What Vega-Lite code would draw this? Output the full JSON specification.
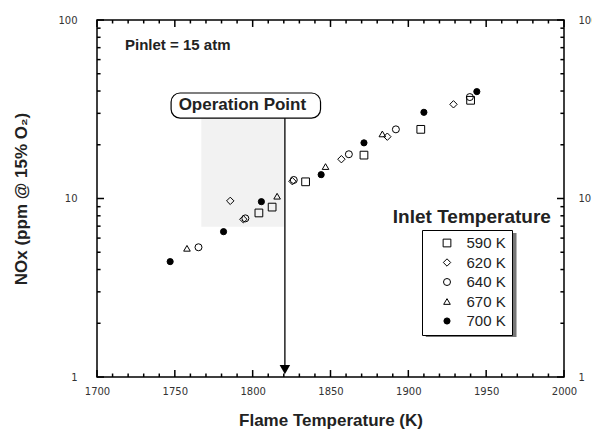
{
  "$schema": "https://vega.github.io/schema/vega-lite/v6.json",
  "width": 467,
  "height": 357,
  "autosize": {"type": "none"},
  "padding": {"left": 97, "top": 20, "right": 28, "bottom": 60},
  "background": "white",
  "config": {
    "view": {"stroke": "black", "strokeWidth": 1.5},
    "font": "Liberation Sans",
    "axis": {"grid": false, "domain": false, "ticks": false, "labelFlush": false, "labelFont": "DejaVu Sans", "labelFontSize": 10, "labelColor": "#333"}
  },
  "datasets": {
    "xmaj": [{"v": 1700}, {"v": 1750}, {"v": 1800}, {"v": 1850}, {"v": 1900}, {"v": 1950}, {"v": 2000}],
    "xmin": [{"v": 1710}, {"v": 1720}, {"v": 1730}, {"v": 1740}, {"v": 1760}, {"v": 1770}, {"v": 1780}, {"v": 1790}, {"v": 1810}, {"v": 1820}, {"v": 1830}, {"v": 1840}, {"v": 1860}, {"v": 1870}, {"v": 1880}, {"v": 1890}, {"v": 1910}, {"v": 1920}, {"v": 1930}, {"v": 1940}, {"v": 1960}, {"v": 1970}, {"v": 1980}, {"v": 1990}],
    "ymaj": [{"v": 1}, {"v": 10}, {"v": 100}],
    "ymin": [{"v": 2}, {"v": 3}, {"v": 4}, {"v": 5}, {"v": 6}, {"v": 7}, {"v": 8}, {"v": 9}, {"v": 20}, {"v": 30}, {"v": 40}, {"v": 50}, {"v": 60}, {"v": 70}, {"v": 80}, {"v": 90}],
    "pts": [
      {"T": "590 K", "x": 1804, "y": 8.3},
      {"T": "590 K", "x": 1812.5, "y": 8.95},
      {"T": "590 K", "x": 1834, "y": 12.4},
      {"T": "590 K", "x": 1871.5, "y": 17.5},
      {"T": "590 K", "x": 1908, "y": 24.4},
      {"T": "590 K", "x": 1940, "y": 35.5},
      {"T": "620 K", "x": 1785.6, "y": 9.7},
      {"T": "620 K", "x": 1794, "y": 7.65},
      {"T": "620 K", "x": 1825.5, "y": 12.5},
      {"T": "620 K", "x": 1857, "y": 16.6},
      {"T": "620 K", "x": 1886.5, "y": 22.2},
      {"T": "620 K", "x": 1929, "y": 33.7},
      {"T": "640 K", "x": 1765.2, "y": 5.33},
      {"T": "640 K", "x": 1795.3, "y": 7.74},
      {"T": "640 K", "x": 1826.4, "y": 12.7},
      {"T": "640 K", "x": 1861.8, "y": 17.7},
      {"T": "640 K", "x": 1892, "y": 24.4},
      {"T": "640 K", "x": 1939.5, "y": 37},
      {"T": "670 K", "x": 1757.8, "y": 5.26},
      {"T": "670 K", "x": 1815.7, "y": 10.3},
      {"T": "670 K", "x": 1846.8, "y": 15.1},
      {"T": "670 K", "x": 1883.3, "y": 23.0},
      {"T": "700 K", "x": 1747, "y": 4.43},
      {"T": "700 K", "x": 1781.3, "y": 6.52},
      {"T": "700 K", "x": 1805.6, "y": 9.6},
      {"T": "700 K", "x": 1844, "y": 13.6},
      {"T": "700 K", "x": 1871.5, "y": 20.5},
      {"T": "700 K", "x": 1910, "y": 30.4},
      {"T": "700 K", "x": 1944, "y": 39.7}
    ]
  },
  "data": {"name": "pts"},
  "layer": [
    {
      "data": {"values": [{}]},
      "mark": {"type": "rect", "color": "#f2f2f2"},
      "encoding": {
        "x": {"datum": 1767, "type": "quantitative", "axis": null},
        "x2": {"datum": 1820},
        "y": {"datum": 30, "type": "quantitative", "axis": null},
        "y2": {"datum": 6.95}
      }
    },
    {
      "data": {"values": [{}]},
      "mark": {"type": "rect", "color": "#777777"},
      "encoding": {
        "x": {"datum": 1911.2, "type": "quantitative", "axis": null},
        "x2": {"datum": 1969.5},
        "y": {"datum": 6.41, "type": "quantitative", "axis": null},
        "y2": {"datum": 1.675}
      }
    },
    {
      "data": {"values": [{}]},
      "mark": {"type": "rect", "fill": "white", "stroke": "black", "strokeWidth": 1.2, "cornerRadius": 9},
      "encoding": {
        "x": {"datum": 1747.6, "type": "quantitative", "axis": null},
        "x2": {"datum": 1843.6},
        "y": {"datum": 39.0, "type": "quantitative", "axis": null},
        "y2": {"datum": 28.2}
      }
    },
    {
      "data": {"values": [{}]},
      "mark": {"type": "text", "text": "Operation Point", "fontSize": 17, "fontWeight": "bold", "color": "#222", "align": "center", "baseline": "middle"},
      "encoding": {
        "x": {"datum": 1793.4, "type": "quantitative", "axis": null},
        "y": {"datum": 33.4, "type": "quantitative", "axis": null}
      }
    },
    {
      "data": {"values": [{}]},
      "mark": {"type": "rule", "color": "black", "strokeWidth": 1.3},
      "encoding": {
        "x": {"datum": 1820.7, "type": "quantitative", "axis": null},
        "y": {"datum": 28.2, "type": "quantitative", "axis": null},
        "y2": {"datum": 1.12}
      }
    },
    {
      "data": {"values": [{}]},
      "mark": {"type": "point", "shape": "triangle-down", "filled": true, "color": "black", "size": 110, "opacity": 1},
      "encoding": {
        "x": {"datum": 1820.7, "type": "quantitative", "axis": null},
        "y": {"datum": 1.1, "type": "quantitative", "axis": null}
      }
    },
    {
      "data": {"values": [{}]},
      "mark": {"type": "text", "text": "Pinlet = 15 atm", "fontSize": 15, "fontWeight": "bold", "color": "#222", "align": "left", "baseline": "middle"},
      "encoding": {
        "x": {"datum": 1718, "type": "quantitative", "axis": null},
        "y": {"datum": 72.4, "type": "quantitative", "axis": null}
      }
    },
    {
      "data": {"values": [{}]},
      "mark": {"type": "text", "text": "Inlet Temperature", "fontSize": 19, "fontWeight": "bold", "color": "#222", "align": "center", "baseline": "middle"},
      "encoding": {
        "x": {"datum": 1940.8, "type": "quantitative", "axis": null},
        "y": {"datum": 7.88, "type": "quantitative", "axis": null}
      }
    },
    {
      "data": {"name": "xmaj"},
      "mark": {"type": "rule", "color": "black", "strokeWidth": 1.5},
      "encoding": {
        "x": {"field": "v", "type": "quantitative", "axis": null},
        "y": {"datum": 1, "type": "quantitative", "axis": null},
        "y2": {"datum": 1.094}
      }
    },
    {
      "data": {"name": "xmin"},
      "mark": {"type": "rule", "color": "black", "strokeWidth": 1.5},
      "encoding": {
        "x": {"field": "v", "type": "quantitative", "axis": null},
        "y": {"datum": 1, "type": "quantitative", "axis": null},
        "y2": {"datum": 1.046}
      }
    },
    {
      "data": {"name": "xmaj"},
      "mark": {"type": "rule", "color": "black", "strokeWidth": 1.5},
      "encoding": {
        "x": {"field": "v", "type": "quantitative", "axis": null},
        "y": {"datum": 100, "type": "quantitative", "axis": null},
        "y2": {"datum": 91.4}
      }
    },
    {
      "data": {"name": "xmin"},
      "mark": {"type": "rule", "color": "black", "strokeWidth": 1.5},
      "encoding": {
        "x": {"field": "v", "type": "quantitative", "axis": null},
        "y": {"datum": 100, "type": "quantitative", "axis": null},
        "y2": {"datum": 95.6}
      }
    },
    {
      "data": {"name": "ymaj"},
      "mark": {"type": "rule", "color": "black", "strokeWidth": 1.5},
      "encoding": {
        "y": {"field": "v", "type": "quantitative", "axis": null},
        "x": {"datum": 1700, "type": "quantitative", "axis": null},
        "x2": {"datum": 1704.5}
      }
    },
    {
      "data": {"name": "ymin"},
      "mark": {"type": "rule", "color": "black", "strokeWidth": 1.5},
      "encoding": {
        "y": {"field": "v", "type": "quantitative", "axis": null},
        "x": {"datum": 1700, "type": "quantitative", "axis": null},
        "x2": {"datum": 1702.3}
      }
    },
    {
      "data": {"name": "ymaj"},
      "mark": {"type": "rule", "color": "black", "strokeWidth": 1.5},
      "encoding": {
        "y": {"field": "v", "type": "quantitative", "axis": null},
        "x": {"datum": 2000, "type": "quantitative", "axis": null},
        "x2": {"datum": 1995.5}
      }
    },
    {
      "data": {"name": "ymin"},
      "mark": {"type": "rule", "color": "black", "strokeWidth": 1.5},
      "encoding": {
        "y": {"field": "v", "type": "quantitative", "axis": null},
        "x": {"datum": 2000, "type": "quantitative", "axis": null},
        "x2": {"datum": 1997.7}
      }
    },
    {
      "mark": {"type": "point", "filled": true, "stroke": "black", "strokeWidth": 1, "opacity": 1},
      "encoding": {
        "x": {
          "field": "x", "type": "quantitative",
          "scale": {"domain": [1700, 2000], "nice": false, "zero": false},
          "axis": {
            "orient": "bottom",
            "values": [1700, 1750, 1800, 1850, 1900, 1950, 2000],
            "format": "d",
            "labelPadding": 9,
            "title": "Flame Temperature (K)",
            "titleFont": "Liberation Sans", "titleFontSize": 17, "titleFontWeight": "bold", "titleColor": "#222",
            "titlePadding": 16
          }
        },
        "y": {
          "field": "y", "type": "quantitative",
          "scale": {"type": "log", "domain": [1, 100], "nice": false},
          "axis": {
            "orient": "left",
            "values": [1, 10, 100],
            "format": "d",
            "labelPadding": 20,
            "title": "NOx (ppm @ 15% O₂)",
            "titleFont": "Liberation Sans", "titleFontSize": 17, "titleFontWeight": "bold", "titleColor": "#222",
            "titlePadding": 27
          }
        },
        "shape": {
          "field": "T", "type": "nominal",
          "scale": {"domain": ["590 K", "620 K", "640 K", "670 K", "700 K"], "range": ["square", "diamond", "circle", "triangle-up", "circle"]},
          "legend": {
            "orient": "none", "legendX": 325, "legendY": 210,
            "title": null,
            "strokeColor": "black", "fillColor": "white",
            "padding": 5.5, "rowPadding": 3.5,
            "symbolOffset": 12, "labelOffset": 12,
            "labelFont": "Liberation Sans", "labelFontSize": 15, "labelColor": "#222",
            "symbolStrokeColor": "black", "symbolStrokeWidth": 1
          }
        },
        "fill": {
          "field": "T", "type": "nominal",
          "scale": {"domain": ["590 K", "620 K", "640 K", "670 K", "700 K"], "range": ["transparent", "transparent", "transparent", "transparent", "black"]}
        },
        "size": {
          "field": "T", "type": "nominal",
          "scale": {"domain": ["590 K", "620 K", "640 K", "670 K", "700 K"], "range": [60, 38, 70, 55, 75]}
        }
      }
    },
    {
      "data": {"values": [{}]},
      "mark": {"type": "point", "opacity": 0},
      "encoding": {
        "x": {"datum": 1700, "type": "quantitative", "axis": null},
        "y": {
          "datum": 1, "type": "quantitative",
          "axis": {
            "orient": "right",
            "values": [1, 10, 100],
            "format": "d",
            "labelPadding": 14,
            "title": null
          }
        }
      }
    }
  ],
  "resolve": {"axis": {"x": "independent", "y": "independent"}}
}
